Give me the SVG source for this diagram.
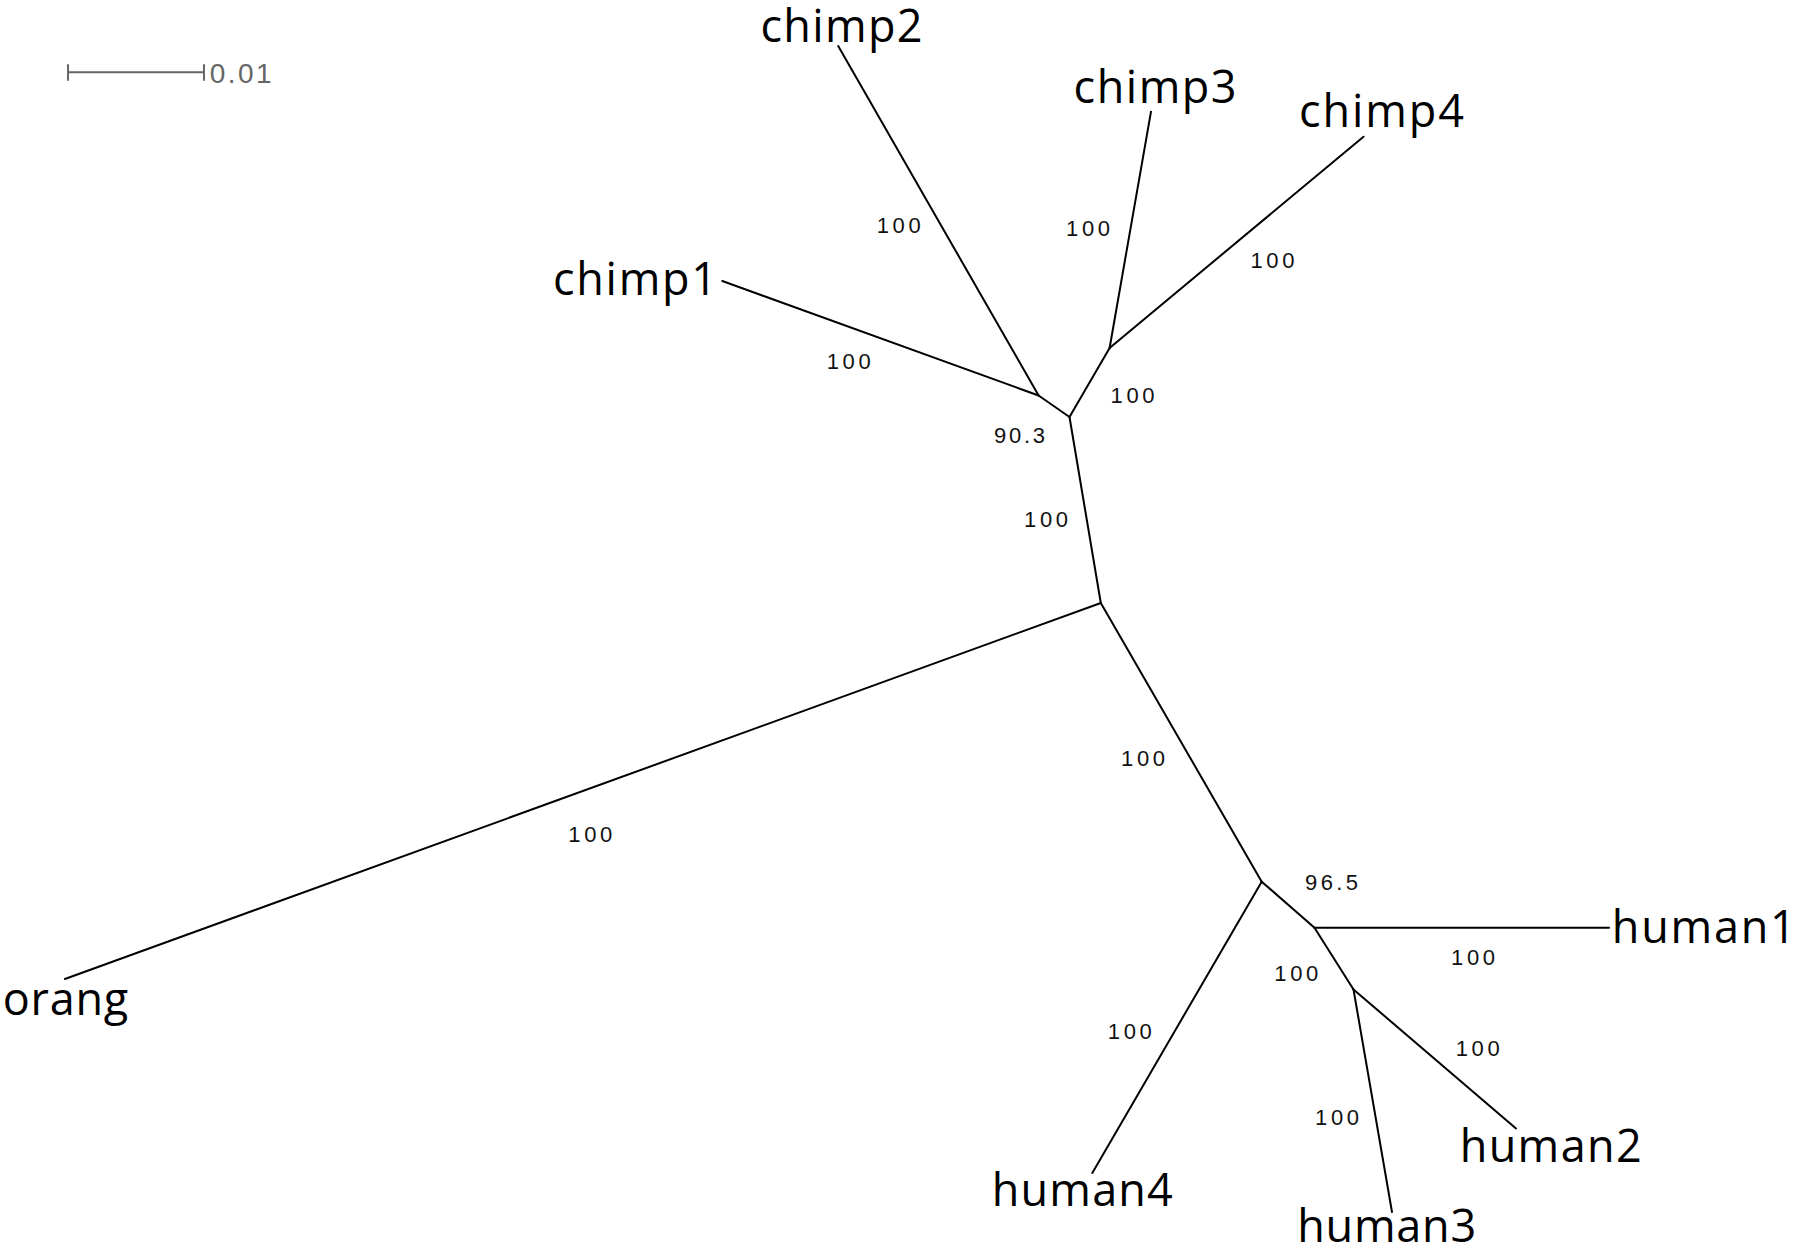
<svg xmlns="http://www.w3.org/2000/svg" width="1800" height="1251" viewBox="0 0 1800 1251">
<style>
.br{stroke:#000;stroke-width:2;fill:none;stroke-linecap:round}
.leaf{font-family:"Open Sans","Noto Sans",sans-serif;font-size:45px;fill:#000}
.bs{font-family:"Liberation Sans",Arial,sans-serif;font-size:22px;fill:#111}
.sb{stroke:#666;stroke-width:2;fill:none}
</style>
<rect width="1800" height="1251" fill="#fff"/>
<g id="scalebar">
<path class="sb" d="M68 72.3H204M68 64.3V80.7M204 64.3V80.7"/>
<text x="209.7" y="83.3" font-family="Liberation Sans,Arial,sans-serif" font-size="28" fill="#666" textLength="62">0.01</text>
</g>
<g id="connectors">
<path class="br" d="M1100.8 603L1069.5 417"/>
<path class="br" d="M1069.5 417L1038.6 395.5"/>
<path class="br" d="M1069.5 417L1109.6 348"/>
<path class="br" d="M1038.6 395.5L722.3 281"/>
<path class="br" d="M1038.6 395.5L838.2 46"/>
<path class="br" d="M1109.6 348L1151 111.7"/>
<path class="br" d="M1109.6 348L1363.5 136.7"/>
<path class="br" d="M1100.8 603L64.9 979"/>
<path class="br" d="M1100.8 603L1261.7 881.7"/>
<path class="br" d="M1261.7 881.7L1092.3 1172.9"/>
<path class="br" d="M1261.7 881.7L1314.5 927.7"/>
<path class="br" d="M1314.5 927.7L1609 927.7"/>
<path class="br" d="M1314.5 927.7L1353.5 989.5"/>
<path class="br" d="M1353.5 989.5L1516 1128.4"/>
<path class="br" d="M1353.5 989.5L1392 1212"/>
</g>
<g id="support">
<text class="bs" x="876.7" y="233.3" textLength="44">100</text>
<text class="bs" x="1066" y="236" textLength="44">100</text>
<text class="bs" x="1250.4" y="267.7" textLength="44">100</text>
<text class="bs" x="826.7" y="369.3" textLength="44">100</text>
<text class="bs" x="1110.5" y="403.3" textLength="44">100</text>
<text class="bs" x="994" y="443.3" textLength="51">90.3</text>
<text class="bs" x="1024" y="526.7" textLength="44">100</text>
<text class="bs" x="568.3" y="842.4" textLength="44">100</text>
<text class="bs" x="1121" y="765.8" textLength="44">100</text>
<text class="bs" x="1305" y="890.3" textLength="53">96.5</text>
<text class="bs" x="1451" y="964.6" textLength="44">100</text>
<text class="bs" x="1274.3" y="981.3" textLength="44">100</text>
<text class="bs" x="1107.8" y="1038.8" textLength="44">100</text>
<text class="bs" x="1455.7" y="1055.6" textLength="44">100</text>
<text class="bs" x="1315" y="1125" textLength="44">100</text>
</g>
<g id="chimp1"><text class="leaf" x="553" y="295" textLength="164">chimp1</text></g>
<g id="chimp2"><text class="leaf" x="760.5" y="42" textLength="162">chimp2</text></g>
<g id="chimp3"><text class="leaf" x="1073.6" y="103" textLength="163">chimp3</text></g>
<g id="chimp4"><text class="leaf" x="1299" y="127" textLength="165">chimp4</text></g>
<g id="orang"><text class="leaf" x="2.7" y="1015" textLength="125.6">orang</text></g>
<g id="human1"><text class="leaf" x="1611.8" y="943" textLength="184">human1</text></g>
<g id="human2"><text class="leaf" x="1459.7" y="1162" textLength="182">human2</text></g>
<g id="human3"><text class="leaf" x="1297.2" y="1242" textLength="179">human3</text></g>
<g id="human4"><text class="leaf" x="991.8" y="1206" textLength="181">human4</text></g>
</svg>
